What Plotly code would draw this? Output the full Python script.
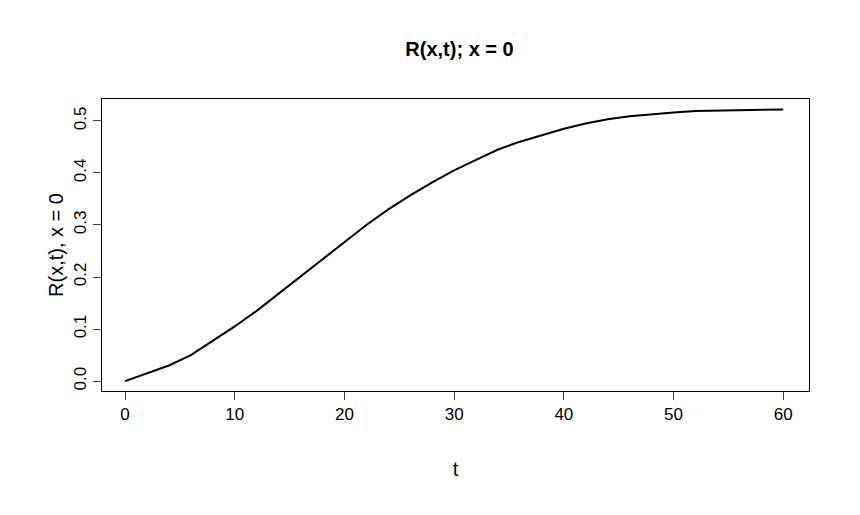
import plotly.graph_objects as go

t = [0, 2, 4, 6, 8, 10, 12, 14, 16, 18, 20, 22, 24, 26, 28, 30, 32, 34, 36, 38, 40,
     42, 44, 46, 48, 50, 52, 54, 56, 58, 60]
r = [0, 0.015, 0.03, 0.05, 0.077, 0.105, 0.135, 0.168, 0.201, 0.235, 0.268, 0.3,
     0.33, 0.357, 0.382, 0.405, 0.425, 0.445, 0.46, 0.473, 0.485, 0.495, 0.503,
     0.509, 0.513, 0.516, 0.519, 0.52, 0.521, 0.522, 0.522]

fnt = dict(family="Liberation Sans, Arial", size=17, color="black")

fig = go.Figure(go.Scatter(x=t, y=r, mode="lines", line=dict(color="black", width=2)))
fig.update_layout(
    width=860, height=515, margin=dict(l=94, r=59, t=91, b=132),
    plot_bgcolor="white", paper_bgcolor="white", font=fnt, showlegend=False,
    title=dict(text="<b>R(x,t); x = 0</b>", x=0.525, xanchor="center", y=0.92, yanchor="middle",
               font=dict(family="Liberation Sans, Arial", size=20)),
)
fig.update_xaxes(range=[-2.1, 62.35], tickvals=[0, 10, 20, 30, 40, 50, 60], ticks="outside",
                 ticklen=8, showgrid=False, zeroline=False, showline=True, linecolor="black",
                 mirror=True, title=dict(text="t", standoff=38))
fig.update_yaxes(range=[-0.019, 0.542], tickvals=[0, 0.1, 0.2, 0.3, 0.4, 0.5],
                 ticktext=["0.0", "0.1", "0.2", "0.3", "0.4", "0.5"], tickangle=-90,
                 ticks="outside", ticklen=8, showgrid=False, zeroline=False, showline=True,
                 linecolor="black", mirror=True, title=dict(text="R(x,t), x = 0", standoff=2))
fig.write_html("out.html")
